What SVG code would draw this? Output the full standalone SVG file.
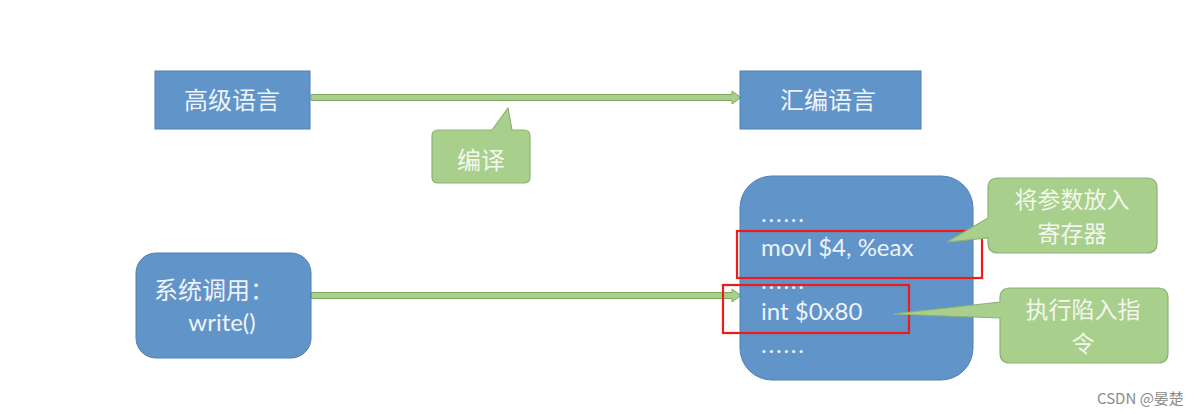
<svg xmlns="http://www.w3.org/2000/svg" width="1204" height="414" viewBox="0 0 1204 414">
<style>
.blue{fill:#6194c8;stroke:#4f80b4;stroke-width:1}
.green{fill:#a8cf8c;stroke:#8db373;stroke-width:1.2}
.arrow{fill:#a8cf8c;stroke:#7faa62;stroke-width:1}
.cjk{font-family:"Noto Sans CJK SC","Noto Sans",sans-serif;fill:#eef3f9}
.gtxt{font-family:"Noto Sans CJK SC","Noto Sans",sans-serif;fill:#f3f7ee}
.code{font-family:Lato,"Open Sans",sans-serif;fill:#eef3f9;font-size:24px}
.dots{letter-spacing:1.8px}
.red{fill:none;stroke:#f01c1c;stroke-width:2.2}
</style>
<rect width="1204" height="414" fill="#ffffff"/>
<g id="connectors">
<path class="arrow" d="M311,94.5 H732 V91 L741,97.5 L732,104 V100.5 H311 Z"/>
<path class="arrow" d="M311,292.5 H732 V289 L741,295.5 L732,302 V298.5 H311 Z"/>
</g>
<g id="node-high">
<rect class="blue" x="155" y="71" width="155" height="58"/>
<text class="cjk" x="232" y="108.5" font-size="24" text-anchor="middle">高级语言</text>
</g>
<g id="node-asm">
<rect class="blue" x="740" y="71" width="181" height="58"/>
<text class="cjk" x="828" y="108.5" font-size="24" text-anchor="middle">汇编语言</text>
</g>
<g id="callout-compile">
<path class="green" d="M438,130 H492 L508,108 L512,130 H524 Q530,130 530,136 V177 Q530,183 524,183 H438 Q432,183 432,177 V136 Q432,130 438,130 Z"/>
<text class="gtxt" x="481" y="168.5" font-size="24" text-anchor="middle">编译</text>
</g>
<g id="node-syscall">
<rect class="blue" x="136" y="253" width="175" height="105" rx="20"/>
<text class="cjk" x="214" y="299" font-size="24" text-anchor="middle">系统调用：</text>
<text class="code" x="222" y="331" text-anchor="middle">write()</text>
</g>
<g id="node-code">
<rect class="blue" x="740" y="176" width="233" height="204" rx="32"/>
<text class="code dots" x="761" y="222">......</text>
<text class="code" x="761" y="256">movl $4, %eax</text>
<text class="code dots" x="761" y="289">......</text>
<text class="code" x="761" y="320">int $0x80</text>
<text class="code dots" x="761" y="353">......</text>
<rect class="red" x="737" y="231" width="245" height="47"/>
<rect class="red" x="723" y="285" width="186" height="48"/>
</g>
<g id="callout-params">
<path class="green" d="M998,178 H1147 Q1157,178 1157,188 V243 Q1157,253 1147,253 H998 Q988,253 988,243 V238 L947,242 L988,218 V188 Q988,178 998,178 Z"/>
<text class="gtxt" x="1072" y="208" font-size="23" text-anchor="middle">将参数放入</text>
<text class="gtxt" x="1072" y="242" font-size="23" text-anchor="middle">寄存器</text>
</g>
<g id="callout-trap">
<path class="green" d="M1010,288 H1158 Q1168,288 1168,298 V353 Q1168,363 1158,363 H1010 Q1000,363 1000,353 V318 L893,314 L1000,302 V298 Q1000,288 1010,288 Z"/>
<text class="gtxt" x="1083" y="318" font-size="23" text-anchor="middle">执行陷入指</text>
<text class="gtxt" x="1083" y="352" font-size="23" text-anchor="middle">令</text>
</g>
<text x="1097" y="404" font-family="'Noto Sans CJK SC','Noto Sans',sans-serif" font-size="15" fill="#8c8c8c">CSDN @晏楚</text>
</svg>
